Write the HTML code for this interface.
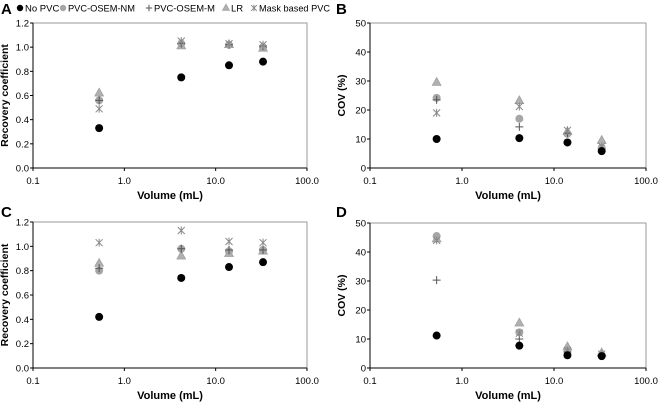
<!DOCTYPE html>
<html><head><meta charset="utf-8"><style>
body{margin:0;background:#fff;width:658px;height:404px;overflow:hidden}
svg{font-family:"Liberation Sans",Arial,sans-serif}
</style></head><body>
<svg id="chart" width="658" height="404" xmlns="http://www.w3.org/2000/svg"></svg>
<script>
const volumes = [0.53, 4.2, 14, 33];
const seriesNames = ["No PVC","PVC-OSEM-NM","PVC-OSEM-M","LR","Mask based PVC"];
const aNoPVC = [0.33,0.75,0.85,0.88];
const aNM = [0.56,1.03,1.02,1.00];
const aM = [0.56,1.03,1.02,1.01];
const aLR = [0.62,1.01,1.02,0.99];
const aMask = [0.49,1.05,1.03,1.02];
const bNoPVC = [10,10.3,8.8,5.8];
const bNM = [24.2,17,11.8,7];
const bM = [23.5,14.2,12,6.5];
const bLR = [29.5,23.2,12.5,9.5];
const bMask = [19,21.2,13,7.5];
const cNoPVC = [0.42,0.74,0.83,0.87];
const cNM = [0.80,0.98,0.96,0.97];
const cM = [0.82,0.98,0.97,0.97];
const cLR = [0.86,0.92,0.94,0.96];
const cMask = [1.03,1.13,1.04,1.03];
const dNoPVC = [11.2,7.7,4.4,4.1];
const dNM = [45.5,12.3,6.2,4.5];
const dM = [30.3,10,5.5,4.2];
const dLR = [44.5,15.5,7.3,5.2];
const dMask = [44,12,6,4.8];
const xTicks = ["0.1","1.0","10.0","100.0"];
const rcTicks = ["0.0","0.2","0.4","0.6","0.8","1.0","1.2"];
const covTicks = ["0","10","20","30","40","50"];

const svg = document.getElementById('chart');
const NS = "http://www.w3.org/2000/svg";
function mk(tag, attrs, parent){const e=document.createElementNS(NS,tag);for(const k in attrs)e.setAttribute(k,attrs[k]);(parent||svg).appendChild(e);return e;}

function marker(g, kind, x, y, s){
  s = s || 1;
  let e;
  if(kind===0){e=mk('circle',{cx:x,cy:y,r:4*s,fill:'#000'},g);}
  else if(kind===1){e=mk('circle',{cx:x,cy:y,r:4*s,fill:'#a6a6a6'},g);}
  else if(kind===2){e=mk('path',{d:`M${x-4*s},${y}H${x+4*s}M${x},${y-4*s}V${y+4*s}`,stroke:'#555','stroke-width':1},g);}
  else if(kind===3){e=mk('path',{d:`M${x},${y-5*s}L${x+4.5*s},${y+3*s}L${x-4.5*s},${y+3*s}Z`,fill:'#b0b0b0',stroke:'#999','stroke-width':0.6},g);}
  else {e=mk('path',{d:`M${x-3.5*s},${y-3.5*s}L${x+3.5*s},${y+3.5*s}M${x-3.5*s},${y+3.5*s}L${x+3.5*s},${y-3.5*s}M${x},${y-4*s}V${y+4*s}`,stroke:'#888','stroke-width':1},g);}
  return e;
}

function panel(p){
  const g = mk('g',{});
  
  
  const xs = v => p.l + (Math.log10(v)+1)/3*(p.r-p.l);
  const ys = v => p.b - v/p.ymax*(p.b-p.t);
  const fr = mk('rect',{x:p.l,y:p.t,width:p.r-p.l,height:p.b-p.t,fill:'none',stroke:'#999','stroke-width':1},g);
  
  
  mk('line',{x1:p.l,y1:p.t,x2:p.l,y2:p.b,stroke:'#000'},g);
  mk('line',{x1:p.l,y1:p.b,x2:p.r,y2:p.b,stroke:'#000'},g);
  p.yt.forEach((t,i)=>{
    const v=parseFloat(t), y=ys(v);
    mk('line',{x1:p.l-3,y1:y,x2:p.l,y2:y,stroke:'#000'},g);
    const tx=mk('text',{x:p.l-4,y:y+3.5,'font-size':9.5,'text-anchor':'end'},g);tx.textContent=t;
    
    
  });
  xTicks.forEach(t=>{
    const x=xs(parseFloat(t));
    mk('line',{x1:x,y1:p.b,x2:x,y2:p.b+3,stroke:'#000'},g);
    const tx=mk('text',{x:x,y:p.b+16,'font-size':9.5,'text-anchor':'middle'},g);tx.textContent=t;
    
    
  });
  const xt=mk('text',{x:(p.l+p.r)/2,y:p.b+31,'font-size':11,'font-weight':'bold','text-anchor':'middle'},g);xt.textContent='Volume (mL)';
  
  
  const cy=(p.t+p.b)/2;
  const yt=mk('text',{x:p.l-25,y:cy,'font-size':10.5,'font-weight':'bold','text-anchor':'middle',transform:`rotate(-90 ${p.l-25} ${cy})`},g);yt.textContent=p.ytitle;
  
  
  const lt=mk('text',{x:p.lx,y:p.ly,'font-size':15,'font-weight':'bold'},g);lt.textContent=p.letter;
  
  
  const order=[3,1,2,4,0];
  order.forEach(k=>{
    p.series[k].forEach((v,i)=>{
      const m=marker(g,k,xs(volumes[i]),ys(v));
      
      
    });
  });
}

panel({letter:'A',lx:1,ly:14,l:33,r:307,t:23,b:168,ymax:1.2,yt:rcTicks,ytitle:'Recovery coefficient',series:[aNoPVC,aNM,aM,aLR,aMask]});
panel({letter:'B',lx:336,ly:14,l:370,r:646,t:23,b:168,ymax:50,yt:covTicks,ytitle:'COV (%)',series:[bNoPVC,bNM,bM,bLR,bMask]});
panel({letter:'C',lx:1,ly:217,l:33,r:307,t:222,b:368,ymax:1.2,yt:rcTicks,ytitle:'Recovery coefficient',series:[cNoPVC,cNM,cM,cLR,cMask]});
panel({letter:'D',lx:336,ly:217,l:370,r:646,t:223,b:368,ymax:50,yt:covTicks,ytitle:'COV (%)',series:[dNoPVC,dNM,dM,dLR,dMask]});

// legend
const lg = mk('g',{});


const lx=[20,63,149,226,254], tx=[25,68,154,231,259], tw=[0,67,61,0,71];
seriesNames.forEach((n,k)=>{
  const m=marker(lg,k,lx[k],8,0.8);
  
  
  const at={x:tx[k],y:11.5,'font-size':9.5};
  if(tw[k]){at.textLength=tw[k];at.lengthAdjust='spacingAndGlyphs';}
  const t=mk('text',at,lg);t.textContent=n;
  
  
});
</script>
</body></html>
